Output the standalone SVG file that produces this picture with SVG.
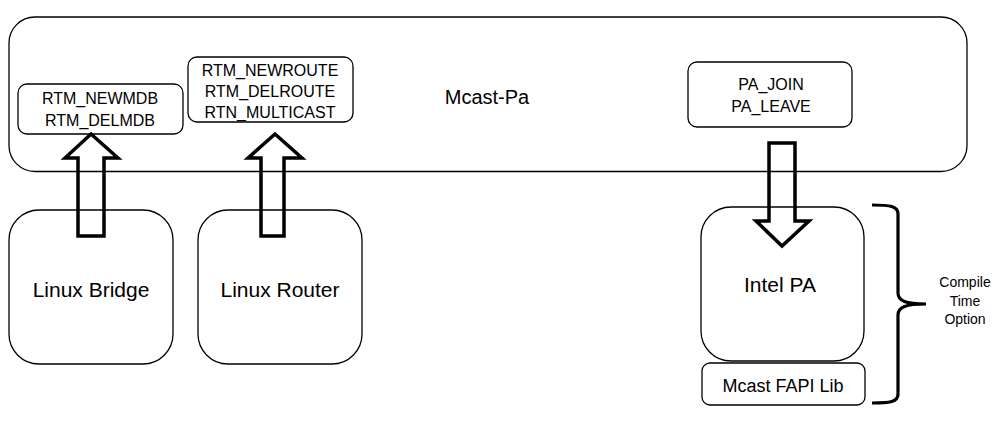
<svg xmlns="http://www.w3.org/2000/svg" width="1008" height="429" viewBox="0 0 1008 429">
<style>
.box{fill:#fff;stroke:#000;stroke-width:1.3}
.t{font-family:"Liberation Sans",Arial,sans-serif;fill:#000;text-anchor:middle}
.arrow{fill:none;stroke:#000;stroke-width:3.5;stroke-linejoin:miter}
</style>
<rect width="1008" height="429" fill="#fff"/>
<g id="mcast-pa">
<rect class="box" x="9" y="17" width="958" height="154.5" rx="26"/>
<text class="t" x="487" y="104" font-size="20">Mcast-Pa</text>
</g>
<g id="rtm-mdb">
<rect class="box" x="18" y="84" width="165" height="50" rx="9"/>
<text class="t" x="100" y="104" font-size="16">RTM_NEWMDB</text>
<text class="t" x="100" y="126" font-size="16">RTM_DELMDB</text>
</g>
<g id="rtm-route">
<rect class="box" x="188" y="57" width="165" height="65" rx="9"/>
<text class="t" x="270" y="76" font-size="16">RTM_NEWROUTE</text>
<text class="t" x="270" y="97" font-size="16">RTM_DELROUTE</text>
<text class="t" x="270" y="118" font-size="16">RTN_MULTICAST</text>
</g>
<g id="pa-join">
<rect class="box" x="688" y="62" width="164" height="65" rx="9"/>
<text class="t" x="771" y="90" font-size="16">PA_JOIN</text>
<text class="t" x="771" y="112" font-size="16">PA_LEAVE</text>
</g>
<g id="linux-bridge">
<rect class="box" x="9" y="210" width="164" height="154" rx="30"/>
<text class="t" x="91" y="297" font-size="21">Linux Bridge</text>
</g>
<g id="linux-router">
<rect class="box" x="198" y="210" width="164" height="154" rx="30"/>
<text class="t" x="280" y="297" font-size="21">Linux Router</text>
</g>
<g id="intel-pa">
<rect class="box" x="701" y="207" width="163" height="154" rx="30"/>
<text class="t" x="780" y="292" font-size="21">Intel PA</text>
</g>
<g id="mcast-fapi">
<rect class="box" x="702" y="363" width="163" height="42" rx="8"/>
<text class="t" x="783" y="392" font-size="18">Mcast FAPI Lib</text>
</g>
<g id="compile-option">
<path d="M872,205 C890,205 898,206 898,214 L898,293 C898,301 906,304 926,304 C906,304 898,307 898,315 L898,394 C898,402 890,403 872,403" fill="none" stroke="#000" stroke-width="3.2"/>
<text class="t" x="965" y="287" font-size="14">Compile</text>
<text class="t" x="965" y="306" font-size="14">Time</text>
<text class="t" x="965" y="324" font-size="14">Option</text>
</g>
<g id="connectors">
<polygon class="arrow" points="78,236 78,158 65,158 91,134 118,158 104,158 104,236"/>
<polygon class="arrow" points="261,236 261,158 248,158 275,134 302,158 284,158 284,236"/>
<polygon class="arrow" points="769,143 795,143 795,221 809,221 782,246 756,221 769,221"/>
</g>
</svg>
